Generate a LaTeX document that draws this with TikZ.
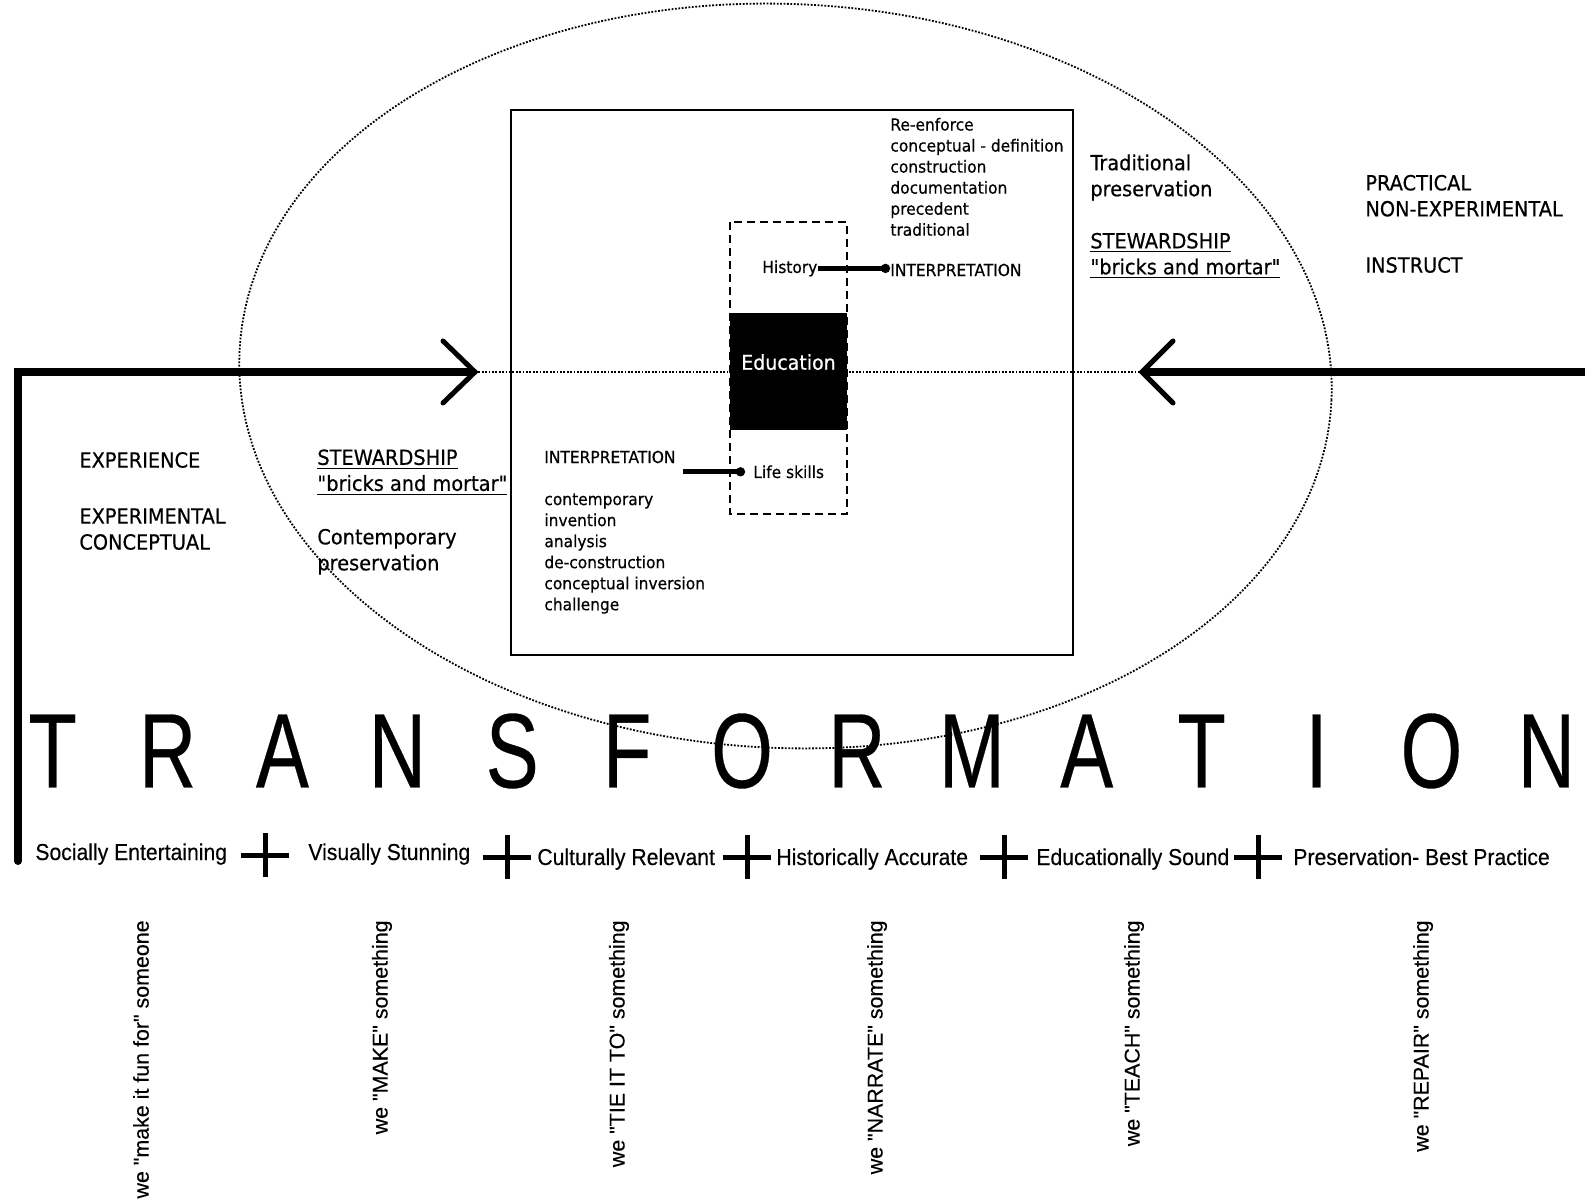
\documentclass[tikz,border=0pt]{standalone}
\usepackage{fontspec}
\usepackage{graphicx}
\usetikzlibrary{arrows.meta}
\setmainfont{DejaVu Sans}
\newfontfamily\tah{DejaVu Sans}[FakeStretch=0.93,FakeBold=0.5]
\newfontfamily\ari{Liberation Sans}[FakeBold=0.3]
\newfontfamily\arin{Liberation Sans}[FakeStretch=0.92,FakeBold=0.3]
\newcommand\trl[1]{\makebox[57.45pt]{\scalebox{0.75}[1]{#1}}}
\begin{document}
\begin{tikzpicture}[x=0.5pt,y=-0.5pt,
  small/.style={font=\tah\fontsize{8.3}{10.52}\selectfont, inner sep=0pt, align=left},
  big/.style={font=\tah\fontsize{10.4}{13}\selectfont, inner sep=0pt, align=left},
  bottomlbl/.style={font=\arin\fontsize{11.5}{13}\selectfont, inner sep=0pt, anchor=base west},
  vlbl/.style={font=\ari\fontsize{10.7}{12}\selectfont, inner sep=0pt, rotate=90, anchor=east},
  mainaxis/.style={line width=4pt},
  chev/.style={line width=2.5pt, line cap=round, line join=miter},
  plusmark/.style={line width=2.5pt},
  conn/.style={line width=2.5pt, -{Circle[length=4.5pt]}},
  dotline/.style={line width=0.9pt, dash pattern=on 0.9pt off 0.8pt},
  ]
\fill[white] (0,0) rectangle (1585,1203);
\useasboundingbox (0,0) rectangle (1585,1203);

% ellipse and frames
\draw[dotline, rotate around={-2.5:(785.5,376)}] (785.5,376) ellipse [x radius=546.5, y radius=372];
\draw[line width=0.9pt] (511,110) rectangle (1073,655);
\coordinate (ltip) at (475,372);
\coordinate (rtip) at (1142,372);
\coordinate (corner) at (18,372);
\coordinate (vbot) at (18,861);
\coordinate (redge) at (1585,372);
\draw[dotline] (ltip) -- (rtip);
\draw[line width=0.8pt, dash pattern=on 4pt off 2.5pt] (730,222) rectangle (847,514);
\node[fill=black, minimum width=58.5pt, minimum height=58.5pt, inner sep=0pt,
      font=\tah\fontsize{10.2}{12}\selectfont, text=white] (edu) at (788.5,371.5) {\raisebox{9.5pt}{Education}};

% thick axis
\draw[mainaxis, line cap=round] (vbot) -- (corner) -- ([xshift=-1pt]ltip);
\draw[mainaxis] ([xshift=1pt]rtip) -- (redge);
\draw[chev] ([shift={(-32,-31)}]ltip) -- (ltip) -- ([shift={(-32,31)}]ltip);
\draw[chev] ([shift={(31,-31)}]rtip) -- (rtip) -- ([shift={(31,31)}]rtip);

% inner texts
\node[small, anchor=north west] (reinf) at (890,117.5) {Re-enforce\\conceptual - definition\\construction\\documentation\\precedent\\traditional};
\node[small, anchor=base west] (hist) at (762,273) {History};
\node[small, anchor=west] (interp1) at (890,270) {INTERPRETATION};
\draw[conn] (hist.east) -- (hist.east -| interp1.west);

\node[small, anchor=west] (interp2) at (544,457) {INTERPRETATION};
\node[small, anchor=base west] (life) at (753,478) {Life skills};
\node[small, anchor=north west] (clist) at (544,493) {contemporary\\invention\\analysis\\de-construction\\conceptual inversion\\challenge};
\draw[conn, shorten <=3.5pt, shorten >=4pt] (interp2.east |- life.west) -- (life.west);

% side texts
\node[big, anchor=north west] (tradp) at (1090,154) {Traditional\\preservation};
\node[big, anchor=north west] (stew1) at (1090,232.5) {\underline{STEWARDSHIP}\\\underline{"bricks and mortar"}};
\node[big, anchor=north west] (pract) at (1365,174.5) {PRACTICAL\\NON-EXPERIMENTAL};
\node[big, anchor=west] (instr) at (1365,265) {INSTRUCT};
\node[big, anchor=west] (exper) at (79,460) {EXPERIENCE};
\node[big, anchor=north west] (expcon) at (79,508) {EXPERIMENTAL\\CONCEPTUAL};
\node[big, anchor=north west] (stew2) at (317,449) {\underline{STEWARDSHIP}\\\underline{"bricks and mortar"}};
\node[big, anchor=north west] (contp) at (317,528.5) {Contemporary\\preservation};

% TRANSFORMATION
\node[inner sep=0pt, font=\ari\fontsize{53}{60}\selectfont] (transf) at (799.5,751)
  {\trl{T}\trl{R}\trl{A}\trl{N}\trl{S}\trl{F}\trl{O}\trl{R}\trl{M}\trl{A}\trl{T}\trl{I}\trl{O}\trl{N}};

% bottom row
\node[bottomlbl] (soc) at (35,860) {Socially Entertaining};
\node[bottomlbl] (vis) at (308,860) {Visually Stunning};
\node[bottomlbl] (cul) at (537,865) {Culturally Relevant};
\node[bottomlbl] (his) at (776,865) {Historically Accurate};
\node[bottomlbl] (edus) at (1036,865) {Educationally Sound};
\node[bottomlbl] (pres) at (1293,865) {Preservation- Best Practice};
\foreach \px/\py in {265/855, 507/857, 747/857, 1004/857, 1258/857}{
  \draw[plusmark] (\px-24,\py) -- (\px+24,\py) (\px,\py-22) -- (\px,\py+22);
}

% rotated
\node[vlbl] (r1) at (141,920) {we "make it fun for" someone};
\node[vlbl] (r2) at (382,920) {we "MAKE" something};
\node[vlbl] (r3) at (619,920) {we "TIE IT TO" something};
\node[vlbl] (r4) at (877,920) {we "NARRATE" something};
\node[vlbl] (r5) at (1134,920) {we "TEACH" something};
\node[vlbl] (r6) at (1423,920) {we "REPAIR" something};
\end{tikzpicture}
\end{document}
